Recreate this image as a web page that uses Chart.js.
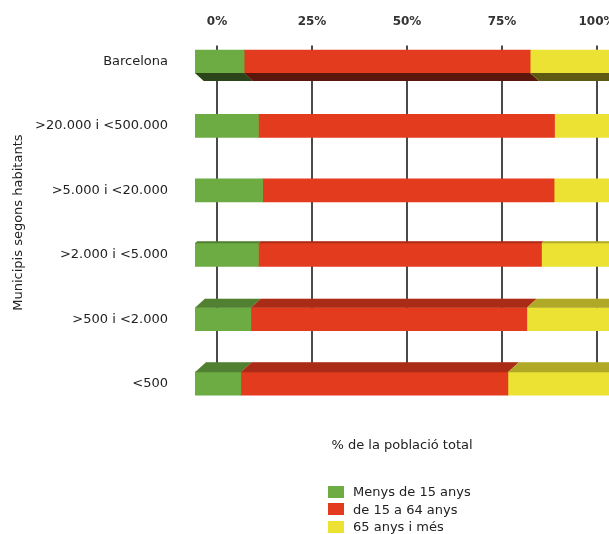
<!DOCTYPE html>
<html>
<head>
<meta charset="utf-8">
<script src="https://cdn.jsdelivr.net/npm/chart.js@4"></script>
<style>
  body { margin: 0; background: #fff; }
  #wrap { position: relative; width: 609px; height: 534px; }
  #legend {
    position: absolute; left: 328px; top: 483px;
    font: 13px "DejaVu Sans", sans-serif; color: #222;
  }
  #legend .item { display: flex; align-items: center; height: 17.5px; }
  #legend .box { width: 16px; height: 12px; margin-right: 9px; }
</style>
</head>
<body>
<div id="wrap">
  <canvas id="chart"></canvas>
  <div id="legend"></div>
</div>
<script>
/* ─── Data ─── */
const categories = [
  "Barcelona",
  ">20.000 i <500.000",
  ">5.000 i <20.000",
  ">2.000 i <5.000",
  ">500 i <2.000",
  "<500",
];
const under15 = [11.7, 15.1, 16.1, 15.1, 13.3, 10.9];
const from15to64 = [68.1, 70.5, 69.4, 67.4, 65.7, 63.6];
const over65 = [20.2, 14.4, 14.5, 17.5, 21.0, 25.5];
const tickValues = [0, 25, 50, 75, 100];

const seriesNames = ["Menys de 15 anys", "de 15 a 64 anys", "65 anys i més"];
const seriesColors = ["#6dab43", "#e33b1e", "#ebe234"];

/* ─── Back wall grid lines ─── */
const backGrid = {
  id: "backGrid",
  beforeDatasetsDraw(chart) {
    const { ctx, scales: { x, y } } = chart;
    const top = y.getPixelForValue(0) - 16;
    const bottom = y.getPixelForValue(categories.length - 1) - 10;
    ctx.save();
    ctx.strokeStyle = "#4a4a4a";
    ctx.lineWidth = 2;
    x.ticks.forEach((t) => {
      const px = Math.round(x.getPixelForValue(t.value));
      ctx.beginPath();
      ctx.moveTo(px, top);
      ctx.lineTo(px, bottom);
      ctx.stroke();
    });
    ctx.restore();
  },
};

/* ─── Fake 3D side faces ─── */
const depths = [8, 0, 0, -2, -9, -10];
const depthFaces = {
  id: "depthFaces",
  afterDatasetsDraw(chart) {
    const ctx = chart.ctx;
    ctx.save();
    chart.data.datasets.forEach((ds, di) => {
      chart.getDatasetMeta(di).data.forEach((bar, i) => {
        const d = depths[i];
        if (!d) return;
        const { x, base, y, height } = bar.getProps(["x", "base", "y", "height"], true);
        const edge = d > 0 ? y + height / 2 : y - height / 2;
        const shift = Math.abs(d) * 1.1;
        ctx.beginPath();
        ctx.moveTo(base, edge);
        ctx.lineTo(x, edge);
        ctx.lineTo(x + shift, edge + d);
        ctx.lineTo(base + shift, edge + d);
        ctx.closePath();
        ctx.fillStyle = ds.backgroundColor;
        ctx.fill();
        ctx.fillStyle = d > 0 ? "rgba(0,0,0,0.6)" : "rgba(0,0,0,0.25)";
        ctx.fill();
      });
    });
    ctx.restore();
  },
};

/* ─── Chart ─── */
const ctx = document.getElementById("chart");
const values = [under15, from15to64, over65];

const chart = new Chart(ctx, {
  type: "bar",
  data: {
    labels: categories,
    datasets: values.map((v, i) => ({
      label: seriesNames[i],
      data: v,
      backgroundColor: seriesColors[i],
      xAxisID: "xb",
      barThickness: 23,
    })),
  },
  plugins: [backGrid, depthFaces],
  options: {
    indexAxis: "y",
    responsive: true,
    maintainAspectRatio: false,
    animation: false,
    layout: { padding: { top: 0, right: 0, bottom: 81, left: 0 } },
    plugins: {
      legend: { display: false },
      tooltip: { enabled: false },
    },
    scales: {
      x: {
        type: "linear",
        position: "top",
        min: -5.789,
        max: 103.158,
        afterBuildTicks: (axis) => {
          axis.ticks = tickValues.map((v) => ({ value: v }));
        },
        afterFit: (axis) => {
          axis.height = 29.3;
          axis.paddingLeft = 0;
          axis.paddingRight = 0;
        },
        grid: { display: false, drawTicks: false },
        border: { display: false },
        ticks: {
          padding: 0,
          color: "#333",
          font: { family: "DejaVu Sans", size: 12, weight: "bold" },
          callback: (v) => v + "%",
        },
      },
      xb: {
        type: "linear",
        position: "bottom",
        stacked: true,
        min: 0,
        max: 98.571,
        afterFit: (axis) => {
          axis.height = 37.1;
          axis.paddingLeft = 0;
          axis.paddingRight = 0;
        },
        grid: { display: false, drawTicks: false },
        border: { display: false },
        ticks: { display: false },
        title: {
          display: true,
          text: "% de la població total",
          color: "#222",
          padding: { top: 0, bottom: 0 },
          font: { family: "DejaVu Sans", size: 13 },
        },
      },
      y: {
        stacked: true,
        afterFit: (axis) => {
          axis.width = 195;
        },
        grid: { display: false },
        border: { display: false },
        ticks: {
          padding: 19,
          color: "#222",
          font: { family: "DejaVu Sans", size: 13 },
        },
        title: {
          display: true,
          text: "Municipis segons habitants",
          color: "#222",
          padding: { top: 11, bottom: 0 },
          font: { family: "DejaVu Sans", size: 13 },
        },
      },
    },
  },
});

/* ─── Legend ─── */
const legendEl = document.getElementById("legend");
chart.data.datasets.forEach((ds) => {
  const item = document.createElement("div");
  item.className = "item";
  const box = document.createElement("span");
  box.className = "box";
  box.style.background = ds.backgroundColor;
  const txt = document.createElement("span");
  txt.textContent = ds.label;
  item.appendChild(box);
  item.appendChild(txt);
  legendEl.appendChild(item);
});
</script>
</body>
</html>
